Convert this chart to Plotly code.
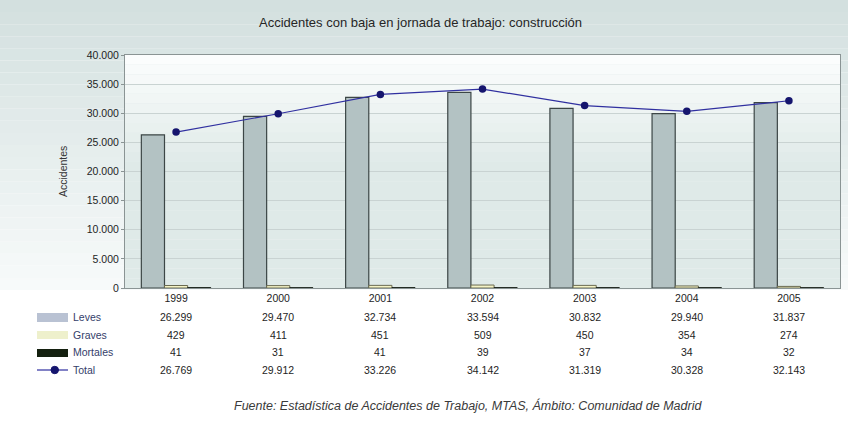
import plotly.graph_objects as go

# Accidentes con baja en jornada de trabajo, sector construcción (Comunidad de Madrid)
years = ["1999", "2000", "2001", "2002", "2003", "2004", "2005"]
leves = [26299, 29470, 32734, 33594, 30832, 29940, 31837]
graves = [429, 411, 451, 509, 450, 354, 274]
mortales = [41, 31, 41, 39, 37, 34, 32]
total = [26769, 29912, 33226, 34142, 31319, 30328, 32143]

y_ticks = [0, 5000, 10000, 15000, 20000, 25000, 30000, 35000, 40000]

W, H = 848, 428
L, R, T, B = 125, 8, 55, 140
PW, PH = W - L - R, H - T - B


def px(x):
    return (x - L) / PW


def py(y):
    return (H - B - y) / PH


def fmt(v):
    return f"{v:,}".replace(",", ".")


def mix(c1, c2, t):
    a = [int(c1[i:i + 2], 16) for i in (1, 3, 5)]
    b = [int(c2[i:i + 2], 16) for i in (1, 3, 5)]
    return "#" + "".join(f"{round(a[k] + (b[k] - a[k]) * t):02x}" for k in range(3))


fig = go.Figure()

fig.add_trace(go.Bar(x=years, y=leves, name="Leves",
                     marker=dict(color="#b3c2c3", line=dict(color="#3c4646", width=1.2))))
fig.add_trace(go.Bar(x=years, y=graves, name="Graves",
                     marker=dict(color="#f3f3c6", line=dict(color="#6a6a50", width=1))))
fig.add_trace(go.Bar(x=years, y=mortales, name="Mortales",
                     marker=dict(color="#101810", line=dict(color="#101810", width=1))))
fig.add_trace(go.Scatter(x=years, y=total, name="Total", mode="lines+markers",
                         line=dict(color="#3030a0", width=1.2),
                         marker=dict(color="#15156e", size=7.5, symbol="circle")))

shapes = []
# page background: teal band at the top fading to white
steps = 24
top_c, bot_c = "#d3e0df", "#f7fafa"
for i in range(steps):
    y0 = i * 290 / steps
    y1 = (i + 1) * 290 / steps
    shapes.append(dict(type="rect", xref="paper", yref="paper", layer="below",
                       x0=px(0), x1=px(W), y0=py(y1), y1=py(y0),
                       fillcolor=mix(top_c, bot_c, i / (steps - 1)), line=dict(width=0)))
# plot area background: white at the top, light teal below
for i in range(steps):
    y0 = T + i * PH / steps
    y1 = T + (i + 1) * PH / steps
    t = min(1.0, i / (steps * 0.45))
    shapes.append(dict(type="rect", xref="paper", yref="paper", layer="below",
                       x0=0, x1=1, y0=py(y1), y1=py(y0),
                       fillcolor=mix("#fbfdfd", "#dfeae8", t), line=dict(width=0)))

# legend keys of the data table
key_x0, key_x1 = px(37), px(68)
shapes.append(dict(type="rect", xref="paper", yref="paper", x0=key_x0, x1=key_x1,
                   y0=py(322), y1=py(313), fillcolor="#b9c2d3", line=dict(width=0)))
shapes.append(dict(type="rect", xref="paper", yref="paper", x0=key_x0, x1=key_x1,
                   y0=py(339), y1=py(331), fillcolor="#eef0cc", line=dict(width=0)))
shapes.append(dict(type="rect", xref="paper", yref="paper", x0=key_x0, x1=key_x1,
                   y0=py(357), y1=py(349), fillcolor="#14200f", line=dict(width=0)))
shapes.append(dict(type="line", xref="paper", yref="paper", x0=key_x0, x1=key_x1,
                   y0=py(370), y1=py(370), line=dict(color="#3030a0", width=1.2)))
shapes.append(dict(type="circle", xref="paper", yref="paper",
                   x0=px(51), x1=px(58.5), y0=py(373.7), y1=py(366.3),
                   fillcolor="#15156e", line=dict(color="#15156e", width=1)))

annotations = []
row_font = dict(family="Liberation Sans Narrow, Liberation Sans, Arial", size=10.5, color="#1e1e1e")
label_font = dict(family="Liberation Sans Narrow, Liberation Sans, Arial", size=10.5, color="#34406a")
rows = [("Leves", leves, 317), ("Graves", graves, 335), ("Mortales", mortales, 352), ("Total", total, 370)]
for name, vals, ypix in rows:
    annotations.append(dict(text=name, xref="paper", yref="paper", x=px(71), y=py(ypix),
                            xanchor="left", yanchor="middle", showarrow=False, font=label_font))
    # category axis positions are given by index
    for idx, v in enumerate(vals):
        annotations.append(dict(text=fmt(v), xref="x", yref="paper", x=idx, y=py(ypix),
                                xanchor="center", yanchor="middle", showarrow=False, font=row_font))

annotations.append(dict(text="Accidentes con baja en jornada de trabajo: construcción",
                        xref="paper", yref="paper", x=px(420), y=py(22),
                        xanchor="center", yanchor="middle", showarrow=False,
                        font=dict(family="Liberation Sans, Arial", size=13, color="#262626")))
annotations.append(dict(text="Accidentes", xref="paper", yref="paper", x=px(63), y=py(172),
                        xanchor="center", yanchor="middle", textangle=-90, showarrow=False,
                        font=dict(family="Liberation Sans Narrow, Liberation Sans, Arial", size=10.5,
                                  color="#333333")))
annotations.append(dict(text="<i>Fuente: Estadística de Accidentes de Trabajo, MTAS, Ámbito: Comunidad de Madrid</i>",
                        xref="paper", yref="paper", x=px(468), y=py(405),
                        xanchor="center", yanchor="middle", showarrow=False,
                        font=dict(family="Liberation Sans, Arial", size=12.5, color="#3a3a3a")))

fig.update_layout(
    width=W, height=H,
    margin=dict(l=L, r=R, t=T, b=B, pad=0),
    barmode="group", bargap=0.32, bargroupgap=0,
    separators=",.",
    showlegend=False,
    paper_bgcolor="#ffffff",
    plot_bgcolor="rgba(0,0,0,0)",
    shapes=shapes,
    annotations=annotations,
    xaxis=dict(type="category", range=[-0.5, len(years) - 0.5], showgrid=False, showline=True,
               linecolor="#8a9494", linewidth=1, mirror=True, ticks="",
               tickfont=dict(family="Liberation Sans Narrow, Liberation Sans, Arial",
                             size=10.5, color="#1e1e1e")),
    yaxis=dict(range=[0, 40000], tickvals=y_ticks, tickformat=",", showgrid=True,
               gridcolor="#c9d3d2", gridwidth=1, showline=True, linecolor="#8a9494",
               mirror=True, zeroline=False, ticks="outside", ticklen=3, tickcolor="#8a9494",
               tickfont=dict(family="Liberation Sans Narrow, Liberation Sans, Arial", size=10.5,
                             color="#1e1e1e")),
)

fig.write_html("out.html")
